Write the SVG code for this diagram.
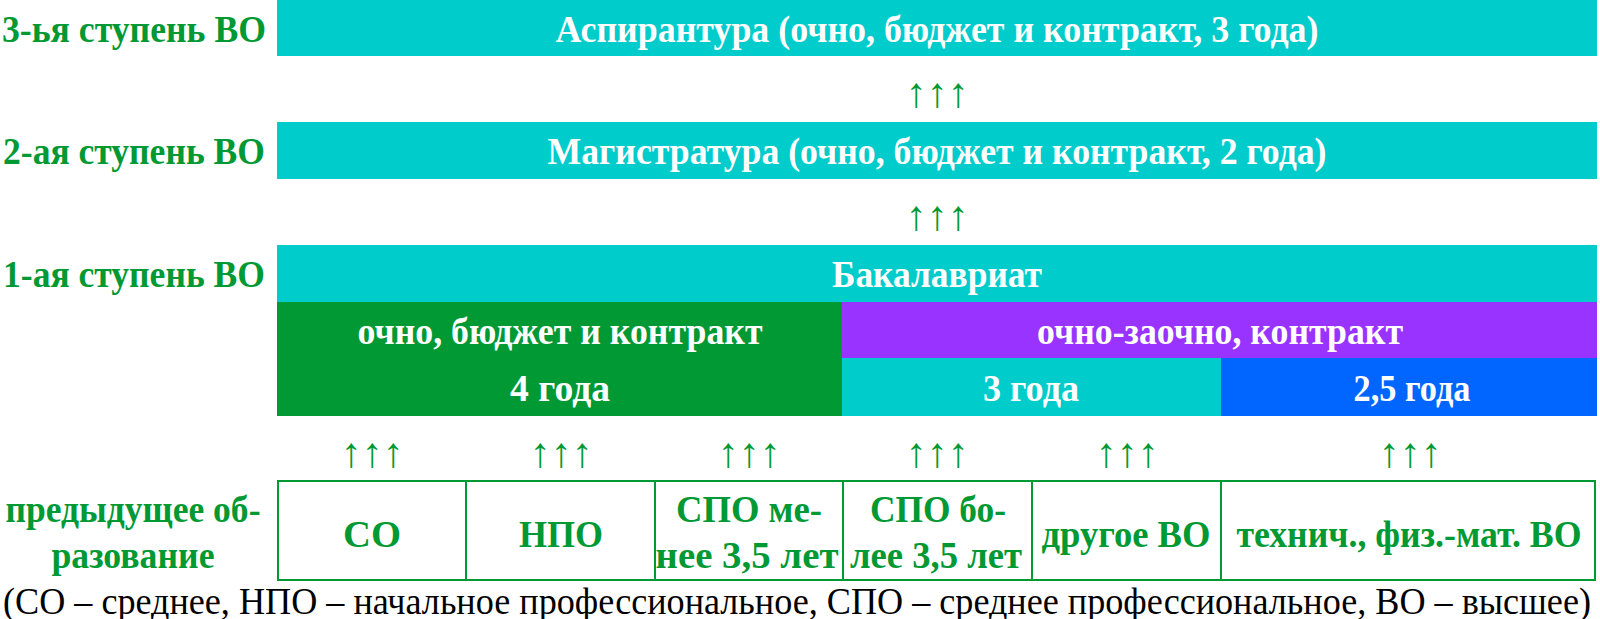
<svg xmlns="http://www.w3.org/2000/svg" width="1600" height="619" viewBox="0 0 1600 619">
<style>
text{font-family:"Liberation Serif","Times New Roman",serif;font-weight:bold;font-size:37px}
.w{fill:#ffffff;text-anchor:middle}
.g{fill:#009933}
.gc{fill:#009933;text-anchor:middle}
.ar{fill:#009933;font-weight:normal;font-size:42px;text-anchor:middle}
.fn{fill:#000000;font-weight:normal}
.box{fill:#ffffff;stroke:#009933;stroke-width:2}
</style>
<rect width="1600" height="619" fill="#ffffff"/>
<g id="labels">
<text class="g" x="2" y="42" textLength="264" lengthAdjust="spacingAndGlyphs">3-ья ступень ВО</text>
<text class="g" x="3" y="164" textLength="262" lengthAdjust="spacingAndGlyphs">2-ая ступень ВО</text>
<text class="g" x="3" y="287" textLength="262" lengthAdjust="spacingAndGlyphs">1-ая ступень ВО</text>
<text class="gc" x="133" y="522" textLength="255" lengthAdjust="spacingAndGlyphs">предыдущее об-</text>
<text class="gc" x="133" y="568" textLength="163" lengthAdjust="spacingAndGlyphs">разование</text>
</g>
<g id="aspirantura">
<rect x="277" y="0" width="1320" height="56" fill="#00cccc"/>
<text class="w" x="937" y="42" textLength="763" lengthAdjust="spacingAndGlyphs">Аспирантура (очно, бюджет и контракт, 3 года)</text>
</g>
<g id="magistratura">
<rect x="277" y="122" width="1320" height="57" fill="#00cccc"/>
<text class="w" x="937" y="164" textLength="779" lengthAdjust="spacingAndGlyphs">Магистратура (очно, бюджет и контракт, 2 года)</text>
</g>
<g id="bakalavriat">
<rect x="277" y="245" width="1320" height="57" fill="#00cccc"/>
<text class="w" x="937" y="287" textLength="210" lengthAdjust="spacingAndGlyphs">Бакалавриат</text>
</g>
<g id="ochno">
<rect x="277" y="302" width="565" height="114" fill="#009933"/>
<text class="w" x="560" y="344" textLength="405" lengthAdjust="spacingAndGlyphs">очно, бюджет и контракт</text>
<text class="w" x="560" y="401" textLength="100" lengthAdjust="spacingAndGlyphs">4 года</text>
</g>
<g id="ochno-zaochno">
<rect x="842" y="302" width="755" height="56" fill="#9933ff"/>
<text class="w" x="1220" y="344" textLength="366" lengthAdjust="spacingAndGlyphs">очно-заочно, контракт</text>
</g>
<g id="three-years">
<rect x="842" y="358" width="379" height="58" fill="#00cccc"/>
<text class="w" x="1031" y="401" textLength="96" lengthAdjust="spacingAndGlyphs">3 года</text>
</g>
<g id="two-half-years">
<rect x="1221" y="358" width="376" height="58" fill="#0066ff"/>
<text class="w" x="1412" y="401" textLength="117" lengthAdjust="spacingAndGlyphs">2,5 года</text>
</g>
<g id="connectors">
<text class="ar" x="937" y="107">↑↑↑</text>
<text class="ar" x="937" y="230">↑↑↑</text>
<text class="ar" x="372" y="467">↑↑↑</text>
<text class="ar" x="561" y="467">↑↑↑</text>
<text class="ar" x="749" y="467">↑↑↑</text>
<text class="ar" x="937" y="467">↑↑↑</text>
<text class="ar" x="1127" y="467">↑↑↑</text>
<text class="ar" x="1410" y="467">↑↑↑</text>
</g>
<g id="prev-so">
<rect class="box" x="278" y="481" width="188" height="99"/>
<text class="gc" x="372" y="547" textLength="58" lengthAdjust="spacingAndGlyphs">СО</text>
</g>
<g id="prev-npo">
<rect class="box" x="466" y="481" width="189" height="99"/>
<text class="gc" x="561" y="547" textLength="84" lengthAdjust="spacingAndGlyphs">НПО</text>
</g>
<g id="prev-spo-less">
<rect class="box" x="655" y="481" width="188" height="99"/>
<text class="gc" x="749" y="522" textLength="146" lengthAdjust="spacingAndGlyphs">СПО ме-</text>
<text class="gc" x="747" y="568" textLength="183" lengthAdjust="spacingAndGlyphs">нее 3,5 лет</text>
</g>
<g id="prev-spo-more">
<rect class="box" x="843" y="481" width="189" height="99"/>
<text class="gc" x="938" y="522" textLength="136" lengthAdjust="spacingAndGlyphs">СПО бо-</text>
<text class="gc" x="936" y="568" textLength="172" lengthAdjust="spacingAndGlyphs">лее 3,5 лет</text>
</g>
<g id="prev-other-vo">
<rect class="box" x="1032" y="481" width="189" height="99"/>
<text class="gc" x="1126" y="547" textLength="169" lengthAdjust="spacingAndGlyphs">другое ВО</text>
</g>
<g id="prev-tech-vo">
<rect class="box" x="1221" y="481" width="374" height="99"/>
<text class="gc" x="1409" y="547" textLength="345" lengthAdjust="spacingAndGlyphs">технич., физ.-мат. ВО</text>
</g>
<g id="footnote">
<text class="fn" x="3" y="614" textLength="1588" lengthAdjust="spacingAndGlyphs">(СО – среднее, НПО – начальное профессиональное, СПО – среднее профессиональное, ВО – высшее)</text>
</g>
</svg>
